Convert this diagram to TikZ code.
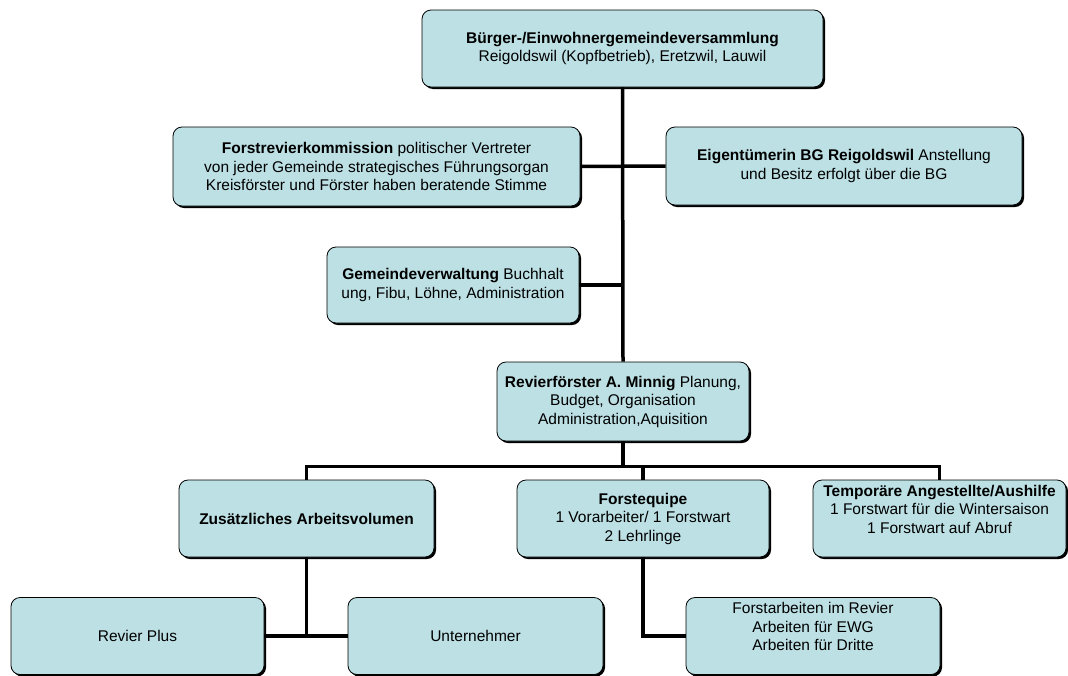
\documentclass[tikz,border=0pt]{standalone}
\usepackage{fontspec}
\setmainfont{Liberation Sans}
\usetikzlibrary{shadows}
\definecolor{boxblue}{RGB}{188,224,228}

\begin{document}
\begin{tikzpicture}[x=1pt,y=-1pt,
  orgbox/.style={draw=black,line width=0.8pt,fill=boxblue,rounded corners=9pt,
    align=center,inner sep=1pt,font=\fontsize{15.5}{18.5}\selectfont,
    drop shadow={shadow xshift=2pt,shadow yshift=-2pt,opacity=1,fill=black}},
  link/.style={line width=3.5pt}]
\useasboundingbox (0,0) rectangle (1068,675);
% top level
\node[orgbox,minimum width=401pt,minimum height=77pt] (versamml) at (622.5,48.5)
  {\textbf{Bürger-/Einwohnergemeindeversammlung}\\Reigoldswil (Kopfbetrieb), Eretzwil, Lauwil};
\node[orgbox,minimum width=407pt,minimum height=79pt] (kommission) at (376.5,166.5)
  {\textbf{Forstrevierkommission} politischer Vertreter\\von jeder Gemeinde strategisches Führungsorgan\\Kreisförster und Förster haben beratende Stimme};
\node[orgbox,minimum width=356pt,minimum height=78pt] (eigentum) at (844,166)
  {\textbf{Eigentümerin BG Reigoldswil} Anstellung\\und Besitz erfolgt über die BG};
\node[orgbox,minimum width=252pt,minimum height=76pt] (verwaltung) at (453,285)
  {\textbf{Gemeindeverwaltung} Buchhalt\\ung, Fibu, Löhne, Administration};
\node[orgbox,minimum width=252pt,minimum height=79pt] (foerster) at (623,401.5)
  {\textbf{Revierförster  A. Minnig} Planung,\\Budget, Organisation\\Administration,Aquisition};
% third level
\node[orgbox,minimum width=255pt,minimum height=77pt] (zusatz) at (306.5,518.5)
  {\textbf{Zusätzliches Arbeitsvolumen}};
\node[orgbox,minimum width=252pt,minimum height=77pt] (equipe) at (643,518.5)
  {\textbf{Forstequipe}\\1 Vorarbeiter/ 1 Forstwart\\2 Lehrlinge};
\node[orgbox,minimum width=253pt,minimum height=77pt] (temporaer) at (939.5,518.5)
  {\textbf{Temporäre Angestellte/Aushilfe}\\1 Forstwart für die Wintersaison\\1 Forstwart auf Abruf\\ \mbox{}};
% bottom level
\node[orgbox,minimum width=253pt,minimum height=77pt] (revierplus) at (137.5,636)
  {Revier Plus};
\node[orgbox,minimum width=255pt,minimum height=77pt] (unternehmer) at (475.5,636)
  {Unternehmer};
\node[orgbox,minimum width=254pt,minimum height=77pt] (arbeiten) at (813,636)
  {Forstarbeiten im Revier\\Arbeiten für EWG\\Arbeiten für Dritte\\ \mbox{}};
% connectors
\draw[link] (versamml.south) -- (foerster.north);
\draw[link] (kommission.east) -- (eigentum.west);
\draw[link] (verwaltung.east) -- (verwaltung.east -| foerster.north);
\draw[link] (foerster.south) -- ++(0,25) coordinate (bus);
\draw[link] (zusatz.north) |- (bus) -| (temporaer.north);
\draw[link] (equipe.north) -- (equipe.north |- bus);
\draw[link] (zusatz.south) -- (zusatz.south |- revierplus.east);
\draw[link] (revierplus.east) -- (unternehmer.west);
\draw[link] (equipe.south) |- (arbeiten.west);
\end{tikzpicture}
\end{document}
